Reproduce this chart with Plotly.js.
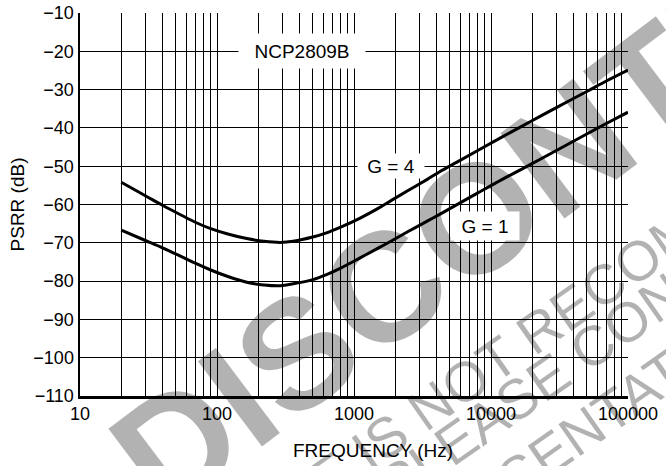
<!DOCTYPE html>
<html>
<head>
<meta charset="utf-8">
<script src="https://cdn.plot.ly/plotly-3.0.1.min.js"></script>
<style>
  html, body { margin: 0; padding: 0; background: #fff; }
  #chart { width: 666px; height: 466px; }
</style>
</head>
<body>
<div id="chart"></div>
<script>
// ---- data ----
const freqHz = [20, 30, 40, 55, 70, 90, 120, 165, 220, 290, 360, 500, 630, 800, 1100, 1500, 1900, 2500, 3400, 4250, 5600, 8000, 12000, 19300, 30000, 50000, 70000, 100000];
const psrrG4 = [-54.2, -57.7, -60.2, -62.8, -64.7, -66.3, -67.7, -68.9, -69.6, -69.9, -69.6, -68.5, -67.4, -65.9, -63.6, -61.0, -58.8, -56.3, -53.5, -51.4, -49.0, -45.9, -42.4, -38.4, -34.7, -30.5, -27.7, -24.9];
const psrrG1 = [-66.7, -69.4, -71.3, -73.6, -75.4, -77.1, -78.8, -80.3, -81.0, -81.2, -80.7, -79.6, -78.3, -76.6, -74.0, -71.4, -69.4, -67.0, -64.4, -62.5, -60.1, -57.0, -53.5, -49.6, -45.9, -41.6, -38.8, -35.9];
const seriesNames = ["G = 4", "G = 1"];
const decadeLabels = ["10", "100", "1000", "10000", "100000"];
const yTicks = [-110, -100, -90, -80, -70, -60, -50, -40, -30, -20, -10];
const chartLabel = "NCP2809B";
const xTitle = "FREQUENCY (Hz)";
const yTitle = "PSRR (dB)";
const watermarkBig = "DISCONTINUED";
const watermarkLines = ["THIS DEVICE IS NOT RECOMMENDED", "PLEASE CONTACT YOUR", "REPRESENTATIVE FOR INFORMATION"];

// log grid ticks 10..100000 with 1..9 multiples
const xTickVals = [];
const xTickText = [];
decadeLabels.forEach((lab, i) => {
  const base = Number(lab);
  const maxK = (i === decadeLabels.length - 1) ? 1 : 9;
  for (let k = 1; k <= maxK; k++) {
    xTickVals.push(base * k);
    xTickText.push(k === 1 ? lab : "");
  }
});

const FONT = "Liberation Sans, Arial, Helvetica, sans-serif";
// black at 30% opacity: reads as light grey on white, keeps black lines black underneath
const WM = "rgba(0,0,0,0.3)";

const traces = [
  { x: freqHz, y: psrrG4, name: seriesNames[0], mode: "lines", line: { color: "#000", width: 3, shape: "spline", smoothing: 1 } },
  { x: freqHz, y: psrrG1, name: seriesNames[1], mode: "lines", line: { color: "#000", width: 3, shape: "spline", smoothing: 1 } }
];

function wmAnn(cx, cy, text, size, weight, angle) {
  return {
    x: cx, y: cy, xref: "paper", yref: "paper", xanchor: "center", yanchor: "middle",
    text: text, textangle: angle, showarrow: false,
    font: { family: FONT, size: size, color: WM, weight: weight }
  };
}

const txtFont = { size: 19, family: FONT, color: "#000" };

const layout = {
  width: 666, height: 466,
  margin: { l: 80, r: 38, t: 13, b: 70, pad: 0 },
  paper_bgcolor: "#fff",
  plot_bgcolor: "#fff",
  showlegend: false,
  font: { family: FONT, color: "#000", size: 18 },
  xaxis: {
    type: "log", range: [1, 5],
    tickmode: "array", tickvals: xTickVals, ticktext: xTickText,
    ticks: "", showgrid: true, gridcolor: "#000", gridwidth: 1,
    showline: true, linecolor: "#000", linewidth: 2.5, mirror: false,
    zeroline: false, tickfont: { size: 18, family: FONT, color: "#000" },
    automargin: false
  },
  yaxis: {
    range: [-110, -10], tickmode: "array", tickvals: yTicks,
    ticks: "", showgrid: true, gridcolor: "#000", gridwidth: 1,
    showline: true, linecolor: "#000", linewidth: 2.5, mirror: false,
    zeroline: false, tickfont: { size: 18, family: FONT, color: "#000" },
    title: { text: yTitle, font: txtFont, standoff: 4 },
    automargin: false
  },
  annotations: [
    wmAnn(0.9544, 0.7154, watermarkBig, 155, 700, -37),
    wmAnn(0.7208, 0.0574, watermarkLines[0], 56, 400, -35),
    wmAnn(1.062, 0.256, watermarkLines[1], 56, 400, -35),
    wmAnn(1.2591, 0.2507, watermarkLines[2], 56, 400, -35),
    { x: Math.log10(417), y: -20, xref: "x", yref: "y", text: chartLabel, showarrow: false,
      bgcolor: "#fff", width: 124, height: 32, borderpad: 1, font: txtFont },
    { x: Math.log10(1862), y: -50, xref: "x", yref: "y", text: seriesNames[0], showarrow: false,
      bgcolor: "#fff", width: 64, height: 22, borderpad: 1, font: txtFont },
    { x: Math.log10(9030), y: -65.6, xref: "x", yref: "y", text: seriesNames[1], showarrow: false,
      bgcolor: "#fff", width: 66, height: 26, borderpad: 1, font: txtFont },
    { x: 0.535, y: -0.1436, xref: "paper", yref: "paper", xanchor: "center", yanchor: "middle",
      text: xTitle, showarrow: false, font: txtFont },
    { x: 1.062, y: 0.483, xref: "paper", yref: "paper", xanchor: "left", yanchor: "middle",
      text: yTitle, textangle: -90, showarrow: false, font: txtFont }
  ]
};

Plotly.newPlot("chart", traces, layout, { staticPlot: true, displayModeBar: false });
</script>
</body>
</html>
